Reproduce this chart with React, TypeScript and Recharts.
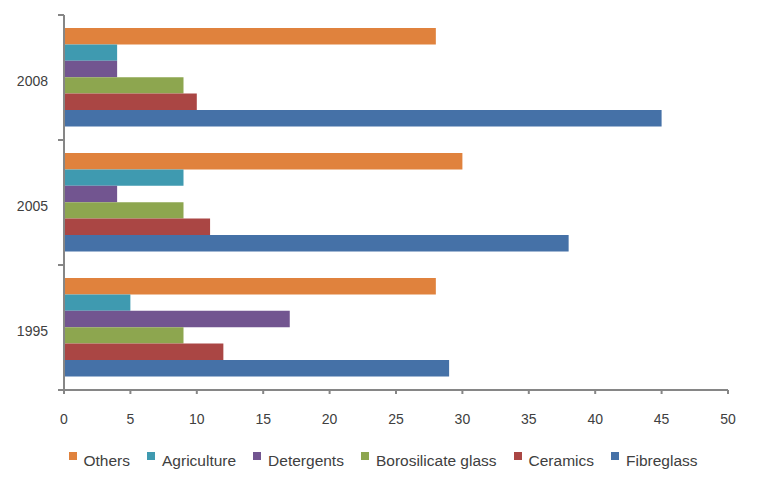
import React from "react";
import {
  BarChart,
  Bar,
  XAxis,
  YAxis,
  Legend,
} from "recharts";

const years = ["2008", "2005", "1995"];
const others = [28, 30, 28];
const agriculture = [4, 9, 5];
const detergents = [4, 4, 17];
const borosilicate = [9, 9, 9];
const ceramics = [10, 11, 12];
const fibreglass = [45, 38, 29];
const xTicks = [0, 5, 10, 15, 20, 25, 30, 35, 40, 45, 50];

const series = [
  { key: "Others", color: "#E0823D", values: others },
  { key: "Agriculture", color: "#3F9AB0", values: agriculture },
  { key: "Detergents", color: "#725590", values: detergents },
  { key: "Borosilicate glass", color: "#8DA64F", values: borosilicate },
  { key: "Ceramics", color: "#AA4644", values: ceramics },
  { key: "Fibreglass", color: "#4571A7", values: fibreglass },
];

const data = years.map((year, i) => {
  const row: { [key: string]: string | number } = { year };
  series.forEach(s => {
    row[s.key] = s.values[i];
  });
  return row;
});

const AXIS = "#868686";
const TEXT = "#404040";
const BAND = 125;

// category label plus the boundary ticks that sit between groups
const YearTick = (props: any) => {
  const { x, y, payload } = props;
  return (
    <g>
      <text x={x} y={y} dy={8} textAnchor="end" fill={TEXT} fontSize={14}>
        {payload.value}
      </text>
      <line x1={58} x2={64} y1={y - BAND / 2} y2={y - BAND / 2} stroke={AXIS} strokeWidth={2} />
      <line x1={58} x2={64} y1={y + BAND / 2} y2={y + BAND / 2} stroke={AXIS} strokeWidth={2} />
    </g>
  );
};

const LegendContent = () => (
  <div
    style={{
      display: "flex",
      justifyContent: "center",
      fontSize: 15.5,
      color: TEXT,
      lineHeight: "17px",
      paddingLeft: 38,
    }}
  >
    {series.map((s, i) => (
      <div
        key={s.key}
        style={{ display: "flex", alignItems: "flex-start", marginRight: i < series.length - 1 ? 17 : 0 }}
      >
        <span
          style={{
            display: "inline-block",
            width: 8,
            height: 8,
            background: s.color,
            marginTop: 0,
            marginRight: 7,
          }}
        />
        <span>{s.key}</span>
      </div>
    ))}
  </div>
);

export default function App() {
  return (
    <div
      style={{
        position: "absolute",
        left: 0,
        top: 0,
        width: 762,
        height: 485,
        background: "#fff",
        fontFamily: "'Liberation Sans', Arial, sans-serif",
      }}
    >
      <BarChart
        width={762}
        height={485}
        data={data}
        layout="vertical"
        margin={{ top: 15, right: 34, left: 0, bottom: 3 }}
        barGap={0}
        barSize={16.4}
      >
        <XAxis
          type="number"
          domain={[0, 50]}
          ticks={xTicks}
          interval={0}
          stroke={AXIS}
          strokeWidth={2}
          tickSize={4}
          tickMargin={20}
          height={62}
          tick={{ fill: TEXT, fontSize: 14 }}
        />
        <YAxis
          type="category"
          dataKey="year"
          width={64}
          stroke={AXIS}
          strokeWidth={2}
          tickLine={false}
          tickMargin={10}
          tick={<YearTick />}
        />
        {series.map(s => (
          <Bar
            key={s.key}
            dataKey={s.key}
            fill={s.color}
            isAnimationActive={false}
          />
        ))}
        <Legend content={<LegendContent />} verticalAlign="bottom" height={30} />
      </BarChart>
    </div>
  );
}
